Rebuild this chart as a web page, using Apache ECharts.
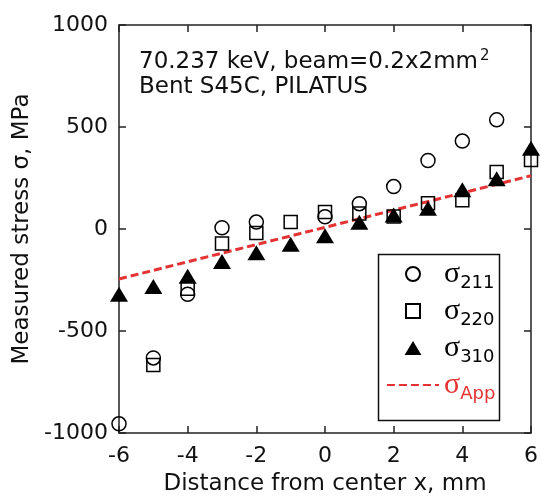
<!DOCTYPE html>
<html>
<head>
<meta charset="utf-8">
<script src="https://cdn.jsdelivr.net/npm/echarts@6/dist/echarts.min.js"></script>
<style>html,body{margin:0;padding:0;background:#fff;}#c{width:541px;height:501px;}</style>
</head>
<body>
<div id="c"></div>
<script>
// Data
var xPositions = [-6, -5, -4, -3, -2, -1, 0, 1, 2, 3, 4, 5, 6];
var sigma211 = [-955, -632, -320, 6, 34, null, 60, 124, 208, 336, 431, 535, null];
var sigma220 = [null, -667, -293, -71, -19, 34, 83, 76, 61, 126, 141, 280, 338];
var sigma310 = [-320, -282, -232, -159, -116, -75, -33, 33, 69, 102, 193, 246, 396];
var appliedX = [-6, 6];
var appliedY = [-245, 261];
var xTicks = [-6, -4, -2, 0, 2, 4, 6];
var yTicks = [-1000, -500, 0, 500, 1000];
var seriesNames = ['σ211', 'σ220', 'σ310', 'σApp'];
var subLabels = {'σ211': '211', 'σ220': '220', 'σ310': '310', 'σApp': 'App'};

function pairs(xs, ys) {
  var out = [];
  for (var i = 0; i < xs.length; i++) if (ys[i] !== null) out.push([xs[i], ys[i]]);
  return out;
}

var FONT = 'DejaVu Sans';
var AX = '#222';
var RED = '#e53232';
var chart = echarts.init(document.getElementById('c'), null, {renderer: 'canvas'});

var hollow = {color: 'rgba(0,0,0,0)', borderColor: '#000', borderWidth: 1.5, opacity: 1};

chart.setOption({
  animation: false,
  backgroundColor: '#fff',
  grid: {left: 119, right: 8, top: 25, bottom: 62, containLabel: false},
  title: {
    left: 139, top: 49,
    padding: 0,
    text: '{a|70.237 keV, beam=0.2x2mm}{sup|2}\n{a|Bent S45C, PILATUS}',
    textStyle: {
      fontWeight: 'normal',
      rich: {
        a: {fontFamily: FONT, fontSize: 23, fontWeight: 'normal', color: '#111', lineHeight: 23},
        sup: {fontFamily: FONT, fontSize: 15, fontWeight: 'normal', color: '#111', padding: [0, 0, 12, 2]}
      }
    }
  },
  legend: {
    orient: 'vertical',
    left: 386, top: 259,
    padding: 0,
    itemGap: 4,
    itemWidth: 52,
    itemHeight: 14,
    symbolKeepAspect: true,
    data: [
      {name: seriesNames[0], icon: 'circle'},
      {name: seriesNames[1], icon: 'path://M0,0L10,0L10,10L0,10Z'},
      {name: seriesNames[2], icon: 'path://M9,0L18,15L0,15Z'},
      {name: seriesNames[3], itemStyle: {color: 'rgba(0,0,0,0)', borderWidth: 0, opacity: 0}}
    ],
    formatter: function (name) {
      return name === 'σApp' ? '{sr|σ}{subr|' + subLabels[name] + '}' : '{s|σ}{sub|' + subLabels[name] + '}';
    },
    textStyle: {
      rich: {
        s: {fontFamily: 'Liberation Serif', fontSize: 30, color: '#000'},
        sub: {fontFamily: FONT, fontSize: 18, color: '#000', padding: [18, 0, 0, 0]},
        sr: {fontFamily: 'Liberation Serif', fontSize: 30, color: RED},
        subr: {fontFamily: FONT, fontSize: 18, color: RED, padding: [18, 0, 0, 0]}
      }
    }
  },
  graphic: [{
    type: 'rect', left: 376, top: 252, z: 100,
    shape: {width: 121, height: 166},
    style: {fill: 'none', stroke: '#111', lineWidth: 1.5}
  }],
  xAxis: [{
    type: 'value', min: -6, max: 6, interval: 2, position: 'bottom',
    name: 'Distance from center x, mm', nameLocation: 'middle', nameGap: 40,
    nameTextStyle: {fontFamily: FONT, fontSize: 23, color: '#111'},
    axisLine: {show: true, onZero: false, lineStyle: {color: AX, width: 1.5}},
    axisTick: {show: true, inside: true, length: 7, lineStyle: {color: AX, width: 1.5}},
    axisLabel: {fontFamily: FONT, fontSize: 22, color: '#111', margin: 12},
    splitLine: {show: false}
  }, {
    type: 'value', min: -6, max: 6, interval: 2, position: 'top',
    axisLine: {show: true, onZero: false, lineStyle: {color: AX, width: 1.5}},
    axisTick: {show: true, inside: true, length: 7, lineStyle: {color: AX, width: 1.5}},
    axisLabel: {show: false}, splitLine: {show: false}
  }],
  yAxis: [{
    type: 'value', min: -1000, max: 1000, interval: 500, position: 'left',
    name: 'Measured stress σ, MPa', nameLocation: 'middle', nameGap: 82,
    nameTextStyle: {fontFamily: FONT, fontSize: 23, color: '#111'},
    axisLine: {show: true, onZero: false, lineStyle: {color: AX, width: 1.5}},
    axisTick: {show: true, inside: true, length: 7, lineStyle: {color: AX, width: 1.5}},
    axisLabel: {fontFamily: FONT, fontSize: 22, color: '#111', margin: 11,
      formatter: function (v) { return String(v); }},
    splitLine: {show: false}
  }, {
    type: 'value', min: -1000, max: 1000, interval: 500, position: 'right',
    axisLine: {show: true, onZero: false, lineStyle: {color: AX, width: 1.5}},
    axisTick: {show: true, inside: true, length: 7, lineStyle: {color: AX, width: 1.5}},
    axisLabel: {show: false}, splitLine: {show: false}
  }],
  series: [{
    name: 'σApp', type: 'line', z: 1,
    data: pairs(appliedX, appliedY),
    symbol: 'none',
    lineStyle: {color: RED, width: 3, type: [8, 4]},
    itemStyle: {color: RED}
  }, {
    name: 'σ211', type: 'scatter', z: 3,
    data: pairs(xPositions, sigma211),
    symbol: 'circle', symbolSize: 14,
    itemStyle: hollow
  }, {
    name: 'σ220', type: 'scatter', z: 3,
    data: pairs(xPositions, sigma220),
    symbol: 'rect', symbolSize: 13,
    itemStyle: hollow
  }, {
    name: 'σ310', type: 'scatter', z: 4,
    data: pairs(xPositions, sigma310),
    symbol: 'triangle', symbolSize: [18, 15],
    itemStyle: {color: '#000', opacity: 1}
  }]
});
</script>
</body>
</html>
